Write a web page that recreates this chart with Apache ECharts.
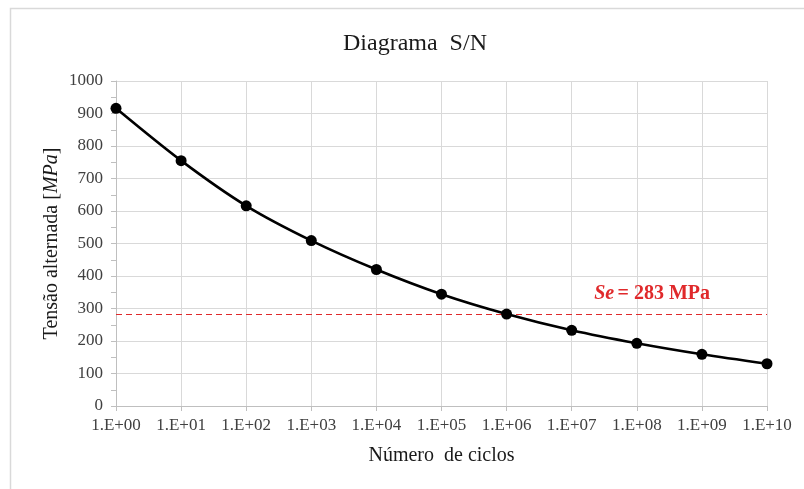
<!DOCTYPE html>
<html>
<head>
<meta charset="utf-8">
<script src="https://cdn.jsdelivr.net/npm/echarts@6/dist/echarts.min.js"></script>
<style>
html,body{margin:0;padding:0;background:#fff;}
#chart{width:804px;height:489px;}
</style>
</head>
<body>
<div id="chart"></div>
<script>
const cycles = ['1.E+00','1.E+01','1.E+02','1.E+03','1.E+04','1.E+05','1.E+06','1.E+07','1.E+08','1.E+09','1.E+10'];
const stress = [916, 755, 616, 509, 420, 344, 283, 233, 193, 159, 130];
const enduranceLimit = 283;
const yTicks = {min: 0, max: 1000, interval: 100};

const FONT = '"Liberation Serif", "Times New Roman", serif';
const chart = echarts.init(document.getElementById('chart'), null, {renderer: 'canvas'});
chart.setOption({
  backgroundColor: '#ffffff',
  animation: false,
  title: {
    text: 'Diagrama  S/N',
    left: 338,
    top: 27,
    textStyle: {fontFamily: FONT, fontSize: 24, fontWeight: 'normal', color: '#1a1a1a'}
  },
  graphic: [{
    type: 'rect',
    shape: {x: 10.5, y: 8.5, width: 900, height: 600},
    style: {fill: 'none', stroke: '#d9d9d9', lineWidth: 1.5},
    silent: true, z: -10
  }],
  grid: {left: 116, right: 37, top: 81, bottom: 83},
  xAxis: {
    type: 'category',
    data: cycles,
    boundaryGap: false,
    name: 'Número  de ciclos',
    nameLocation: 'middle',
    nameGap: 40,
    nameMoveOverlap: false,
    nameTextStyle: {fontFamily: FONT, fontSize: 20, color: '#1a1a1a'},
    axisLine: {lineStyle: {color: '#bfbfbf', width: 1}},
    axisTick: {show: true, length: 5, inside: false, lineStyle: {color: '#bfbfbf'}},
    axisLabel: {fontFamily: FONT, fontSize: 17, color: '#404040', margin: 11},
    splitLine: {show: true, lineStyle: {color: '#d9d9d9', width: 1}}
  },
  yAxis: {
    type: 'value',
    min: yTicks.min, max: yTicks.max, interval: yTicks.interval,
    name: '{n|Tensão alternada [}{i|MPa}{n|]}',
    nameLocation: 'middle',
    nameGap: 54,
    nameMoveOverlap: false,
    nameRotate: 90,
    nameTextStyle: {
      fontFamily: FONT, fontSize: 20, color: '#1a1a1a',
      rich: {
        n: {fontFamily: FONT, fontSize: 20, color: '#1a1a1a'},
        i: {fontFamily: FONT, fontSize: 20, color: '#1a1a1a', fontStyle: 'italic'}
      }
    },
    axisLine: {show: true, lineStyle: {color: '#bfbfbf', width: 1}},
    axisTick: {show: true, length: 5, lineStyle: {color: '#bfbfbf'}},
    minorTick: {show: true, splitNumber: 2, length: 5, lineStyle: {color: '#bfbfbf'}},
    axisLabel: {fontFamily: FONT, fontSize: 17, color: '#404040', margin: 13, formatter: v => String(v)},
    splitLine: {show: true, lineStyle: {color: '#d9d9d9', width: 1}}
  },
  series: [{
    type: 'line',
    data: stress,
    smooth: 0.3,
    symbol: 'circle',
    symbolSize: 11,
    itemStyle: {color: '#000000'},
    lineStyle: {color: '#000000', width: 2.6},
    z: 5,
    markLine: {
      silent: true,
      symbol: ['none', 'none'],
      lineStyle: {color: '#e0292b', type: [6, 4], width: 1.2},
      label: {
        show: true,
        position: 'insideEndTop',
        distance: [57, 10],
        formatter: '{a|Se} {b|= 283 MPa}',
        rich: {
          a: {fontFamily: FONT, fontSize: 20, fontWeight: 'bold', fontStyle: 'italic', color: '#e0292b'},
          b: {fontFamily: FONT, fontSize: 20, fontWeight: 'bold', color: '#e0292b'}
        }
      },
      data: [{yAxis: enduranceLimit}]
    }
  }]
});
</script>
</body>
</html>
